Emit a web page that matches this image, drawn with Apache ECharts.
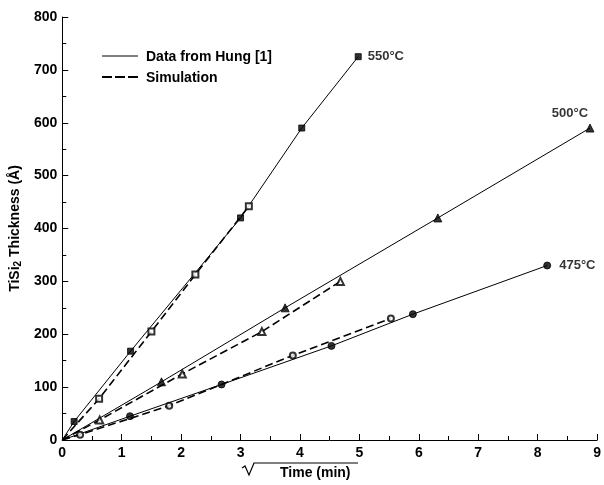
<!DOCTYPE html>
<html>
<head>
<meta charset="utf-8">
<script src="https://cdn.jsdelivr.net/npm/echarts@6/dist/echarts.min.js"></script>
<style>
  html, body { margin: 0; padding: 0; background: #fff; }
  #main { width: 604px; height: 485px; }
</style>
</head>
<body>
<div id="main"></div>
<script>
// sqrt(time) in min^0.5, thickness in Angstrom
const hung550 = [[0, 0], [0.2, 35], [1.15, 168], [3.0, 420], [4.03, 590], [4.98, 725]];
const hung500 = [[0, 0], [1.67, 110], [3.75, 250], [6.32, 420], [8.88, 590]];
const hung475 = [[0, 0], [1.14, 45], [2.68, 105], [4.53, 178], [5.9, 238], [8.16, 330]];

const sim550 = [[0, 0], [0.62, 78], [1.5, 205], [2.24, 313], [3.14, 442]];
const sim500 = [[0, 0], [0.63, 38], [2.02, 125], [3.36, 205], [4.68, 300]];
const sim475 = [[0, 0], [0.3, 10], [1.8, 65], [3.88, 160], [5.53, 230]];

const tempLabels = ['550°C', '500°C', '475°C'];
const legendNames = ['Data from Hung [1]', 'Simulation'];

const font = 'Liberation Sans, Arial, Helvetica, sans-serif';
const chart = echarts.init(document.getElementById('main'));

function lineSeries(data, dashed) {
  return {
    type: 'line',
    data: data,
    symbol: 'none',
    silent: true,
    z: dashed ? 3 : 2,
    lineStyle: dashed
      ? { color: '#000', width: 1.6, type: [8, 4] }
      : { color: '#000', width: 1 }
  };
}

function markers(data, symbol, size, label, labelOpt) {
  const pts = data.slice(1).map(function (p, i, arr) {
    const item = { value: p };
    if (label && i === arr.length - 1) {
      item.label = Object.assign({
        show: true,
        formatter: label,
        color: '#000',
        fontFamily: font,
        fontWeight: 'bold',
        fontSize: 13
      }, labelOpt);
    }
    return item;
  });
  return {
    type: 'scatter',
    data: pts,
    symbol: symbol,
    symbolSize: size,
    silent: true,
    z: 5,
    itemStyle: { color: '#000', borderColor: '#000', borderWidth: 1 }
  };
}

const option = {
  animation: false,
  grid: { left: 62, right: 4, top: 17, bottom: 45 },
  xAxis: {
    type: 'value',
    min: 0,
    max: 9,
    interval: 1,
    axisLine: { lineStyle: { color: '#000', width: 1 } },
    axisTick: { inside: true, length: 6, lineStyle: { color: '#000' } },
    minorTick: { show: true, splitNumber: 2, length: 4, lineStyle: { color: '#000' } },
    splitLine: { show: false },
    axisLabel: { color: '#000', fontFamily: font, fontWeight: 'bold', fontSize: 14, margin: 6 }
  },
  yAxis: {
    type: 'value',
    min: 0,
    max: 800,
    interval: 100,
    name: 'TiSi{sub|2} Thickness (Å)',
    nameLocation: 'middle',
    nameRotate: 90,
    nameGap: 32,
    nameTextStyle: {
      color: '#000', fontFamily: font, fontWeight: 'bold', fontSize: 14,
      rich: {
        sub: { fontFamily: font, fontWeight: 'bold', fontSize: 10, verticalAlign: 'bottom', padding: [6, 0, 0, 0] }
      }
    },
    axisLine: { show: true, lineStyle: { color: '#000', width: 1 } },
    axisTick: { inside: true, length: 6, lineStyle: { color: '#000' } },
    minorTick: { show: true, splitNumber: 2, length: 4, lineStyle: { color: '#000' } },
    splitLine: { show: false },
    axisLabel: { color: '#000', fontFamily: font, fontWeight: 'bold', fontSize: 14, margin: 5 }
  },
  graphic: [
    // legend
    {
      type: 'line',
      shape: { x1: 102, y1: 56, x2: 138, y2: 56 },
      style: { stroke: '#000', lineWidth: 1 }
    },
    {
      type: 'text',
      left: 146,
      top: 50,
      style: { text: legendNames[0], fontFamily: font, fontWeight: 'bold', fontSize: 14, fill: '#000' }
    },
    {
      type: 'line',
      shape: { x1: 102, y1: 77, x2: 139, y2: 77 },
      style: { stroke: '#000', lineWidth: 2, lineDash: [10, 3] }
    },
    {
      type: 'text',
      left: 146,
      top: 71,
      style: { text: legendNames[1], fontFamily: font, fontWeight: 'bold', fontSize: 14, fill: '#000' }
    },
    // x axis title with radical sign
    {
      type: 'polyline',
      shape: { points: [[242, 468], [245, 466], [249, 475], [254, 463], [358, 463]] },
      style: { stroke: '#000', lineWidth: 1.2, fill: null }
    },
    {
      type: 'text',
      left: 280,
      top: 466,
      style: { text: 'Time (min)', fontFamily: font, fontWeight: 'bold', fontSize: 14, fill: '#000' }
    }
  ],
  series: [
    lineSeries(hung550, false),
    lineSeries(hung500, false),
    lineSeries(hung475, false),
    lineSeries(sim550, true),
    lineSeries(sim500, true),
    lineSeries(sim475, true),
    markers(hung550, 'rect', 6, tempLabels[0], { position: 'right', distance: 6 }),
    markers(hung500, 'triangle', 8, tempLabels[1], { position: 'top', distance: 4, offset: [-20, 0] }),
    markers(hung475, 'circle', 7, tempLabels[2], { position: 'right', distance: 8 }),
    markers(sim550, 'emptyRect', 6),
    markers(sim500, 'emptyTriangle', 7),
    markers(sim475, 'emptyCircle', 6)
  ]
};

chart.setOption(option);
</script>
</body>
</html>
